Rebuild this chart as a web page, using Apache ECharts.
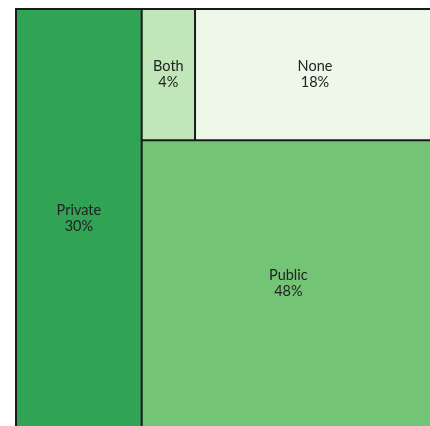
<!DOCTYPE html>
<html>
<head>
<meta charset="utf-8">
<script src="https://cdn.jsdelivr.net/npm/echarts@6/dist/echarts.min.js"></script>
<style>
  html, body { margin: 0; padding: 0; background: #fff; }
  #chart { width: 430px; height: 426px; }
</style>
</head>
<body>
<div id="chart"></div>
<script>
// order matters: layout is not sorted
const categories = ['Private', 'Both', 'None', 'Public'];
const shares = [30, 4, 18, 48];
const colors = ['#31a354', '#c0e6b9', '#edf8e9', '#74c476'];

const chart = echarts.init(document.getElementById('chart'));

const data = categories.map((name, i) => ({
  name: name,
  value: shares[i],
  itemStyle: { color: colors[i] }
}));

chart.setOption({
  animation: false,
  series: [{
    type: 'treemap',
    left: 15,
    top: 8,
    width: 421,
    height: 420,
    sort: false,
    squareRatio: 0.7,
    roam: false,
    nodeClick: false,
    breadcrumb: { show: false },
    itemStyle: { borderColor: '#1a1a1a', borderWidth: 1, gapWidth: 0 },
    label: {
      show: true,
      position: 'inside',
      color: '#222',
      fontFamily: 'Lato',
      fontSize: 14.5,
      lineHeight: 16,
      align: 'center',
      formatter: p => p.name + '\n' + p.value + '%'
    },
    data: data
  }]
});
</script>
</body>
</html>
